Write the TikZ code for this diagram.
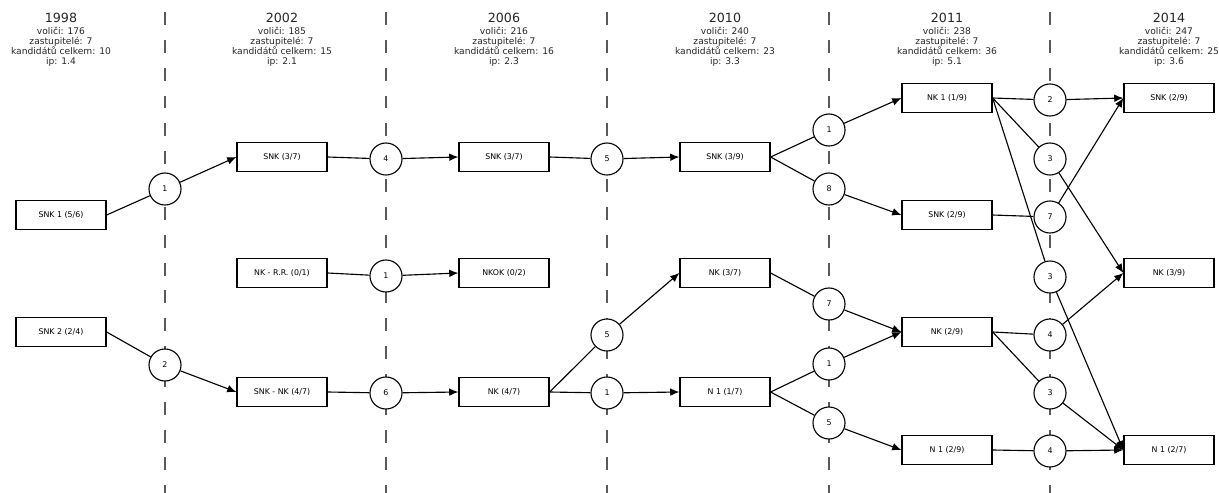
\documentclass[tikz,border=0pt]{standalone}
\usepackage{fontspec}
\setmainfont{DejaVu Sans}
\usetikzlibrary{arrows.meta}

\tikzset{
  party/.style={draw, line width=0.9pt, minimum width=2.25cm, minimum height=0.72cm,
    inner sep=1pt, font=\fontsize{5.6}{6}\selectfont},
  seats/.style={draw, circle, line width=0.8pt, fill=white, minimum size=0.8cm,
    inner sep=0pt, font=\fontsize{5.6}{6}\selectfont},
  flow/.style={line width=0.8pt},
  flowto/.style={line width=0.8pt, -{Latex[length=6.5pt,width=5.5pt]}},
  era/.style={line width=1pt, black!65, dash pattern=on 9.2pt off 10.6pt},
}

\begin{document}
\begin{tikzpicture}[x=0.025cm, y=-0.025cm]
     \useasboundingbox (0,0) rectangle (1219,493);
     % election boundaries
     \foreach \x in {165,386,607,829,1050}
       \draw[era] (\x,12) -- (\x,493);
     % headers
     \foreach \x/\yr/\v/\k/\ip in {61/1998/176/10/1.4, 282/2002/185/15/2.1,
         504/2006/216/16/2.3, 725/2010/240/23/3.3, 947/2011/238/36/5.1, 1169/2014/247/25/3.6}{
       \node[font=\fontsize{9}{10}\selectfont, black!85] (year\yr) at (\x,18) {\yr};
       \node[font=\fontsize{6.5}{7.1}\selectfont, black!85, align=center, anchor=north,
         inner sep=0pt] (info\yr) at (\x,27) {voliči: \v\\zastupitelé: 7\\kandidátů celkem: \k\\ip: \ip};
     }
     % lists
     \node[party] (snka98) at (61,215) {SNK 1 (5/6)};
     \node[party] (snkb98) at (61,332) {SNK 2 (2/4)};
     \node[party] (snk02) at (282,157) {SNK (3/7)};
     \node[party] (nkrr02) at (282,273) {NK - R.R. (0/1)};
     \node[party] (snknk02) at (282,392) {SNK - NK (4/7)};
     \node[party] (snk06) at (504,157) {SNK (3/7)};
     \node[party] (nkok06) at (504,273) {NKOK (0/2)};
     \node[party] (nk06) at (504,392) {NK (4/7)};
     \node[party] (snk10) at (725,157) {SNK (3/9)};
     \node[party] (nk10) at (725,273) {NK (3/7)};
     \node[party] (n10) at (725,392) {N 1 (1/7)};
     \node[party] (nka11) at (947,98) {NK 1 (1/9)};
     \node[party] (snk11) at (947,215) {SNK (2/9)};
     \node[party] (nk11) at (947,332) {NK (2/9)};
     \node[party] (n11) at (947,450) {N 1 (2/9)};
     \node[party] (snk14) at (1169,98) {SNK (2/9)};
     \node[party] (nk14) at (1169,273) {NK (3/9)};
     \node[party] (n14) at (1169,450) {N 1 (2/7)};
     % elected
     \node[seats] (m02a) at (165,189) {1};
     \node[seats] (m02b) at (165,365) {2};
     \node[seats] (m06a) at (386,159) {4};
     \node[seats] (m06b) at (386,276) {1};
     \node[seats] (m06c) at (386,393) {6};
     \node[seats] (m10a) at (607,159) {5};
     \node[seats] (m10b) at (607,335) {5};
     \node[seats] (m10c) at (607,393) {1};
     \node[seats] (m11a) at (829,130) {1};
     \node[seats] (m11b) at (829,189) {8};
     \node[seats] (m11c) at (829,304) {7};
     \node[seats] (m11d) at (829,364) {1};
     \node[seats] (m11e) at (829,423) {5};
     \node[seats] (m14a) at (1050,100) {2};
     \node[seats] (m14b) at (1050,159) {3};
     \node[seats] (m14c) at (1050,217) {7};
     \node[seats] (m14d) at (1050,277) {3};
     \node[seats] (m14e) at (1050,335) {4};
     \node[seats] (m14f) at (1050,393) {3};
     \node[seats] (m14g) at (1050,451) {4};
     % transitions
     \foreach \a/\m/\b in {snka98/m02a/snk02, snkb98/m02b/snknk02,
         snk02/m06a/snk06, nkrr02/m06b/nkok06, snknk02/m06c/nk06,
         snk06/m10a/snk10, nk06/m10b/nk10, nk06/m10c/n10,
         snk10/m11a/nka11, snk10/m11b/snk11, nk10/m11c/nk11, n10/m11d/nk11, n10/m11e/n11,
         nka11/m14a/snk14, nka11/m14b/nk14, nka11/m14d/n14, snk11/m14c/snk14,
         nk11/m14e/nk14, nk11/m14f/n14, n11/m14g/n14}{
       \draw[flow] (\a.east) -- (\m);
       \draw[flowto] (\m) -- (\b.west);
     }
\end{tikzpicture}
\end{document}
